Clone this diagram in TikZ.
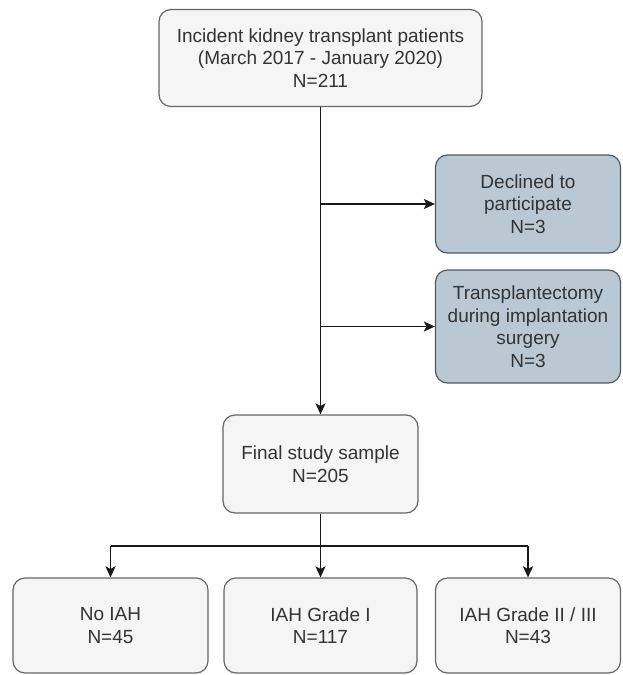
\documentclass[tikz,border=0pt]{standalone}
\usepackage{fontspec}
\setmainfont{Liberation Sans}
\usetikzlibrary{arrows.meta}
\definecolor{boxfill}{HTML}{F5F5F5}
\definecolor{boxline}{HTML}{666666}
\definecolor{bluefill}{HTML}{BAC8D3}
\definecolor{blueline}{HTML}{4A5A68}
\definecolor{txt}{HTML}{333333}
\tikzset{
  base/.style={rectangle, rounded corners=12pt, line width=1.2pt, align=center,
    font=\fontsize{19}{22.5}\selectfont, text=txt, inner sep=0pt},
  greybox/.style={base, draw=boxline, fill=boxfill},
  bluebox/.style={base, draw=blueline, fill=bluefill},
  conn/.style={line width=1.6pt, draw=black!90},
  arr/.style={conn, -{Stealth[length=11pt,width=10pt,inset=2.5pt]}}
}
\begin{document}
\begin{tikzpicture}[x=1pt,y=-1pt]
\useasboundingbox (0,0) rectangle (622,675);
\node[greybox, minimum width=323pt, minimum height=97pt] (top) at (320.5,58)
  {Incident kidney transplant patients\\ (March 2017 - January 2020)\\ N=211};
\node[bluebox, minimum width=185pt, minimum height=98pt] (dec) at (528,204)
  {Declined to\\ participate\\ N=3};
\node[bluebox, minimum width=185pt, minimum height=113pt] (trx) at (528,326.5)
  {Transplantectomy\\ during implantation\\ surgery\\ N=3};
\node[greybox, minimum width=195pt, minimum height=98pt] (fin) at (320.5,464)
  {Final study sample\\ N=205};
\node[greybox, minimum width=195pt, minimum height=95pt] (g0) at (110.5,625.5)
  {No IAH\\ N=45};
\node[greybox, minimum width=193pt, minimum height=95pt] (g1) at (320.5,625.5)
  {IAH Grade I\\ N=117};
\node[greybox, minimum width=185pt, minimum height=95pt] (g2) at (528,625.5)
  {IAH Grade II / III\\ N=43};
\coordinate (j1) at (top.south |- dec.west);
\coordinate (j2) at (top.south |- trx.west);
\draw[arr] (top.south) -- (fin.north);
\draw[arr] (j1) -- (dec.west);
\draw[arr] (j2) -- (trx.west);
\coordinate (hl) at (g0.north |- 0,546);
\coordinate (hr) at (g2.north |- 0,546);
\draw[arr] (fin.south) -- (g1.north);
\draw[conn] (hl) -- (hr);
\draw[arr] (hl) -- (g0.north);
\draw[arr] (hr) -- (g2.north);
\end{tikzpicture}
\end{document}
